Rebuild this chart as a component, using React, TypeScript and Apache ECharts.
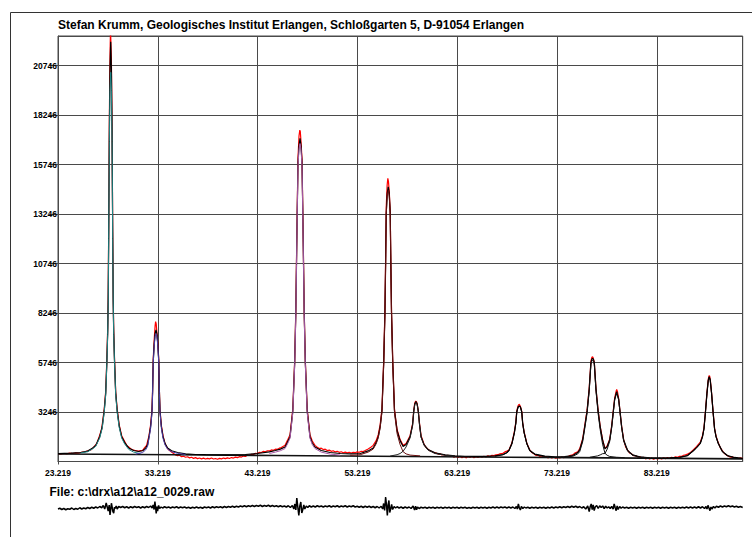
import React, { useEffect, useRef } from "react";
import * as echarts from "echarts";

const TITLE = "Stefan Krumm, Geologisches Institut Erlangen, Schloßgarten 5, D-91054 Erlangen";
const FILE_LABEL = "File: c:\\drx\\a12\\a12_0029.raw";

const X_MIN = 23.219;
const X_MAX = 91.83;
const X_STEP = 10;
const Y_MIN = 746;
const Y_MAX = 22236;
const Y_STEP = 2500;
const RES_MIN = -400;
const RES_MAX = 400;

// measured diffractogram (2theta, counts)
const measured: number[][] = [
  [23.219,1140],[23.5,1120],[23.8,1150],[24.1,1135],[24.4,1165],[24.7,1150],[25.0,1180],[25.3,1165],[25.6,1215],[25.9,1240],[26.2,1290],[26.5,1330],[26.8,1470],[27.1,1650],[27.4,2080],[27.6,2400],[27.85,3400],[28.0,4300],[28.115,5900],[28.2,7500],[28.25,9200],[28.3,12600],[28.365,18000],[28.43,21200],[28.48,22600],[28.52,22600],[28.57,21000],[28.635,17800],[28.7,12400],[28.75,9000],[28.8,7400],[28.885,5900],[29.0,4250],[29.15,3400],[29.35,2600],[29.6,2050],[29.9,1760],[30.1,1560],[30.3,1480],[30.5,1390],[30.7,1340],[30.9,1310],[31.1,1290],[31.3,1270],[31.5,1300],[31.7,1310],[31.9,1450],[32.1,1560],[32.34,2050],[32.5,2600],[32.64,3400],[32.7,4400],[32.76,5900],[32.86,6900],[32.95,7600],[33.0,7810],[33.06,7700],[33.13,7250],[33.22,6750],[33.32,5850],[33.38,4300],[33.44,3350],[33.58,2550],[33.74,2050],[33.95,1640],[34.2,1400],[34.4,1300],[34.6,1230],
  [34.8,1150],[35.0,1080],[35.2,1040],[35.4,1060],[35.6,990],[35.8,1010],[36.0,960],[36.2,985],[36.4,930],[36.6,960],[36.8,905],[37.0,940],[37.2,890],[37.4,925],[37.6,880],[37.8,915],[38.0,870],[38.2,905],[38.4,880],[38.6,920],[38.8,870],[39.0,900],[39.2,860],[39.4,905],[39.6,880],[39.8,920],[40.0,890],[40.2,930],[40.4,900],[40.6,945],[40.8,920],[41.0,965],[41.2,940],[41.4,990],[41.6,970],[41.8,1020],[42.0,1000],[42.2,1060],[42.4,1050],[42.6,1110],[42.8,1100],[43.0,1160],[43.2,1150],[43.4,1210],[43.6,1200],[43.8,1260],[44.0,1240],[44.2,1290],[44.4,1280],[44.6,1330],[44.8,1310],[45.0,1370],[45.2,1360],[45.4,1420],[45.6,1450],[45.8,1520],[45.97,1560],
  [46.2,1800],[46.47,2100],[46.75,3400],[46.94,5900],[47.05,8400],[47.12,11000],[47.19,13500],[47.27,16100],[47.37,17200],[47.45,17480],[47.5,17400],[47.57,16900],[47.67,16000],[47.75,13400],[47.82,10900],[47.89,8350],[48.0,5850],[48.19,3380],[48.47,2080],[48.7,1780],[48.97,1560],[49.2,1470],[49.4,1400],[49.6,1420],[49.8,1350],[50.0,1370],[50.2,1300],[50.4,1320],[50.6,1260],[50.8,1290],[51.0,1230],[51.2,1260],[51.4,1210],[51.6,1240],[51.8,1190],[52.0,1220],[52.2,1180],[52.4,1215],[52.6,1175],[52.8,1210],[53.0,1190],[53.2,1230],[53.4,1210],[53.6,1260],[53.8,1250],[54.0,1300],[54.3,1380],[54.6,1480],[54.8,1560],[55.1,1800],
  [55.31,2100],[55.5,2600],[55.68,3400],[55.86,5900],[55.98,8400],[56.05,11000],[56.11,13600],[56.2,14700],[56.27,15050],[56.33,14900],[56.41,14400],[56.51,13400],[56.57,10900],[56.64,8300],[56.76,5850],[56.94,3350],[57.2,2350],[57.5,1850],[57.8,1560],[58.1,1650],[58.5,2050],[58.75,2650],[58.87,3350],[58.97,3700],[59.07,3800],[59.15,3750],[59.21,3650],[59.32,3300],[59.45,2650],[59.6,2050],[59.9,1620],[60.1,1460],[60.3,1370],
  [60.5,1280],[60.7,1250],[60.9,1190],[61.1,1180],[61.3,1120],[61.5,1130],[61.7,1080],[61.9,1100],[62.1,1030],[62.3,1060],[62.5,1000],[62.7,1040],[62.9,960],[63.1,1010],[63.3,950],[63.5,1000],[63.7,940],[63.9,990],[64.1,930],[64.3,985],[64.5,950],[64.7,1000],[64.9,940],[65.1,990],[65.3,950],[65.5,1000],[65.7,960],[65.9,1010],[66.1,970],[66.3,1030],[66.5,1000],[66.7,1060],[66.9,1040],[67.1,1080],[67.3,1090],[67.5,1130],[67.8,1160],[68.0,1230],[68.2,1270],[68.4,1320],
  [68.7,1680],[68.95,2250],[69.1,2750],[69.19,3300],[69.32,3560],[69.42,3640],[69.5,3580],[69.56,3520],[69.69,3280],[69.78,2700],[69.93,2230],[70.2,1670],[70.5,1320],[70.7,1200],[70.9,1140],[71.1,1060],[71.3,1070],[71.5,1000],[71.7,1030],[71.9,960],[72.1,1000],[72.3,930],[72.5,975],[72.7,920],[72.9,960],[73.1,910],[73.3,955],[73.5,920],[73.7,970],[73.9,940],[74.1,995],[74.3,990],[74.5,1040],[74.8,1080],[75.0,1170],[75.3,1240],[75.5,1400],
  [75.79,1880],[76.0,2550],[76.24,3350],[76.45,4450],[76.62,5800],[76.7,5980],[76.76,6040],[76.83,6000],[76.88,5900],[76.96,5760],[77.13,4420],[77.34,3340],[77.55,2520],[77.79,1850],[78.03,1410],[78.25,1530],[78.5,1870],[78.7,2550],[78.87,3350],[79.0,3950],[79.15,4300],[79.2,4390],[79.27,4300],[79.4,3920],[79.53,3320],[79.7,2520],[79.9,1850],[80.1,1480],[80.3,1320],
  [80.5,1180],[80.7,1130],[80.9,1040],[81.1,1050],[81.3,970],[81.5,1000],[81.7,920],[81.9,960],[82.1,880],[82.3,930],[82.5,870],[82.7,920],[82.9,860],[83.1,910],[83.3,870],[83.5,920],[83.7,880],[83.9,930],[84.1,890],[84.3,945],[84.5,900],[84.7,960],[84.9,930],[85.1,980],[85.3,960],[85.5,1010],[85.7,1000],[85.9,1060],[86.1,1080],[86.3,1120],[86.6,1200],[86.9,1340],[87.2,1500],
  [87.58,1720],[87.8,2050],[87.95,2450],[88.1,3300],[88.25,4250],[88.38,4900],[88.46,5080],[88.52,5060],[88.58,4880],[88.71,4220],[88.86,3280],[89.01,2430],[89.16,2030],[89.38,1700],[89.6,1430],[89.8,1280],[90.0,1150],[90.2,1080],[90.4,1010],[90.6,960],[90.8,980],[91.0,920],[91.2,950],[91.4,900],[91.6,935],[91.83,890],
];

// fitted profile (sum of peaks + background)
const fitted: number[][] = [
  [23.219,1140],[24.5,1165],[25.5,1200],[26.2,1270],[26.7,1430],[27.0,1560],[27.4,2000],[27.65,2500],[27.85,3300],[28.0,4200],[28.115,5790],[28.2,7300],[28.25,8900],[28.3,12300],[28.365,17500],[28.43,20600],[28.5,21950],[28.57,20600],[28.635,17500],[28.7,12300],[28.75,8900],[28.8,7300],[28.885,5790],[29.0,4200],[29.15,3300],[29.35,2550],[29.6,2000],[29.9,1700],[30.3,1430],[30.8,1300],[31.3,1250],[31.7,1290],
  [32.0,1420],[32.2,1600],[32.34,2000],[32.5,2500],[32.64,3300],[32.7,4300],[32.76,5790],[32.86,6700],[32.95,7200],[33.04,7390],[33.13,7200],[33.22,6700],[33.32,5790],[33.38,4300],[33.44,3300],[33.58,2500],[33.74,2000],[33.95,1650],[34.2,1430],[34.6,1290],[35.2,1200],[36.0,1130],[37.0,1100],[38.0,1090],[40.0,1085],[42.0,1100],[43.2,1150],[44.4,1230],[45.0,1300],[45.5,1370],
  [45.97,1480],[46.2,1700],[46.47,2000],[46.75,3300],[46.94,5790],[47.05,8280],[47.12,10800],[47.19,13300],[47.27,15850],[47.37,16700],[47.47,17070],[47.57,16700],[47.67,15850],[47.75,13300],[47.82,10800],[47.89,8280],[48.0,5790],[48.19,3300],[48.47,2000],[48.7,1680],[48.97,1480],[49.6,1300],[50.5,1200],[51.5,1150],[52.5,1130],[53.5,1150],[54.3,1280],[54.8,1430],[55.1,1700],
  [55.31,2000],[55.5,2500],[55.68,3300],[55.86,5790],[55.98,8280],[56.05,10800],[56.11,13300],[56.21,14300],[56.31,14620],[56.41,14300],[56.51,13300],[56.57,10800],[56.64,8280],[56.76,5790],[56.94,3300],[57.2,2300],[57.5,1800],[57.8,1500],[58.1,1600],[58.5,2000],[58.75,2600],[58.87,3300],[58.97,3650],[59.09,3770],[59.21,3650],[59.32,3300],[59.45,2600],[59.6,2000],[59.9,1600],[60.3,1350],
  [61.0,1180],[62.0,1080],[63.0,1030],[64.0,1010],[65.0,1000],[66.0,1000],[67.0,1030],[67.8,1100],[68.2,1200],[68.4,1300],[68.7,1650],[68.95,2200],[69.1,2700],[69.19,3250],[69.32,3500],[69.44,3550],[69.56,3500],[69.69,3250],[69.78,2700],[69.93,2200],[70.2,1650],[70.5,1300],[71.0,1120],[72.0,1020],[73.0,985],[74.0,990],[74.8,1050],[75.3,1200],[75.5,1330],
  [75.79,1830],[76.0,2500],[76.24,3300],[76.45,4400],[76.62,5740],[76.7,5900],[76.79,5960],[76.88,5900],[76.96,5740],[77.13,4400],[77.34,3300],[77.55,2500],[77.79,1830],[78.03,1380],[78.25,1500],[78.5,1830],[78.7,2500],[78.87,3300],[79.0,3900],[79.2,4270],[79.4,3900],[79.53,3300],[79.7,2500],[79.9,1830],[80.3,1300],[80.8,1080],
  [81.5,980],[82.5,930],[83.5,920],[84.5,930],[85.5,960],[86.3,1050],[86.9,1300],[87.2,1450],[87.58,1665],[87.8,2000],[87.95,2400],[88.1,3260],[88.25,4200],[88.38,4850],[88.48,5030],[88.58,4850],[88.71,4200],[88.86,3260],[89.01,2400],[89.16,2000],[89.38,1665],[89.8,1250],[90.3,1050],[91.0,950],[91.83,900],
];

const background: number[][] = [
  [23.219,1125],[35,1085],[45,1050],[55,1010],[65,975],[75,940],[85,905],[91.83,880],
];

// individual peak components (incl. background)
const peak1: number[][] = [[25.5,1180],[26.2,1240],[26.7,1390],[27.0,1510],[27.4,1940],[27.65,2430],[27.85,3220],[28.0,4110],[28.115,5680],[28.2,7170],[28.25,8750],[28.3,12000],[28.365,16900],[28.43,19500],[28.5,20400],[28.57,19500],[28.635,16900],[28.7,12000],[28.75,8750],[28.8,7170],[28.885,5680],[29.0,4110],[29.15,3220],[29.35,2470],[29.6,1930],[29.9,1630],[30.3,1360],[30.8,1220],[31.5,1140]];
const peak2: number[][] = [[31.0,1120],[31.7,1200],[32.0,1330],[32.2,1520],[32.34,1920],[32.5,2420],[32.64,3220],[32.7,4200],[32.76,5680],[32.86,6580],[32.95,7050],[33.04,7200],[33.13,7050],[33.22,6580],[33.32,5680],[33.38,4200],[33.44,3220],[33.58,2420],[33.74,1920],[33.95,1580],[34.2,1370],[34.6,1240],[35.2,1160],[36.0,1100]];
const peak3: number[][] = [[44.4,1150],[45.0,1220],[45.5,1290],[45.97,1400],[46.2,1620],[46.47,1920],[46.75,3210],[46.94,5690],[47.05,8180],[47.12,10700],[47.19,13200],[47.27,15700],[47.37,16500],[47.47,16800],[47.57,16500],[47.67,15700],[47.75,13200],[47.82,10700],[47.89,8180],[48.0,5690],[48.19,3210],[48.47,1920],[48.7,1600],[48.97,1400],[49.6,1220],[50.5,1120],[51.5,1070]];
const peak4: number[][] = [[52.5,1060],[53.5,1090],[54.3,1220],[54.8,1370],[55.1,1640],[55.31,1940],[55.5,2440],[55.68,3240],[55.86,5720],[55.98,8200],[56.05,10700],[56.11,13200],[56.21,14150],[56.31,14450],[56.41,14150],[56.51,13200],[56.57,10700],[56.64,8180],[56.76,5680],[56.94,3180],[57.2,2150],[57.5,1600],[57.8,1240],[58.1,1130],[58.5,1070],[59.5,1030]];
const peak5: number[][] = [[56.5,1020],[57.2,1090],[57.5,1150],[57.8,1265],[58.1,1480],[58.5,1940],[58.75,2560],[58.87,3260],[58.97,3610],[59.09,3730],[59.21,3610],[59.32,3260],[59.45,2570],[59.6,1970],[59.9,1570],[60.3,1320],[61.0,1150],[62.0,1060],[63.0,1020]];
const peak6: number[][] = [[67.0,1010],[67.8,1080],[68.2,1180],[68.4,1280],[68.7,1630],[68.95,2180],[69.1,2680],[69.19,3230],[69.32,3480],[69.44,3530],[69.56,3480],[69.69,3230],[69.78,2680],[69.93,2180],[70.2,1630],[70.5,1280],[71.0,1100],[72.0,1000]];
const peak7: number[][] = [[73.5,950],[74.8,1010],[75.3,1130],[75.5,1250],[75.79,1740],[76.0,2400],[76.24,3200],[76.45,4300],[76.62,5640],[76.7,5800],[76.79,5860],[76.88,5800],[76.96,5640],[77.13,4290],[77.34,3180],[77.55,2350],[77.79,1620],[78.03,1160],[78.25,1060],[78.5,1000],[79.2,960],[80.0,940]];
const peak8: number[][] = [[76.5,960],[77.3,1030],[77.55,1080],[77.79,1140],[78.03,1150],[78.25,1370],[78.5,1760],[78.7,2440],[78.87,3250],[79.0,3850],[79.2,4220],[79.4,3860],[79.53,3260],[79.7,2460],[79.9,1790],[80.3,1270],[80.8,1060],[81.5,965],[82.5,925]];
const peak9: number[][] = [[85.5,945],[86.3,1035],[86.9,1285],[87.2,1435],[87.58,1650],[87.8,1985],[87.95,2385],[88.1,3245],[88.25,4185],[88.38,4835],[88.48,5015],[88.58,4835],[88.71,4185],[88.86,3245],[89.01,2385],[89.16,1985],[89.38,1650],[89.8,1235],[90.3,1035],[91.0,935]];

const peakColors = ["#1f8585", "#4a3ca8", "#a85aa8", "#6a1010", "#222222", "#111111", "#111111", "#111111", "#111111"];
const peakOnTop = [true, true, true, true, true, false, true, true, false];

// difference curve (measured - fit)
const residual: number[][] = [
  [23.219,-20],[23.4,-5],[23.6,-30],[23.8,-10],[24.0,-35],[24.2,-15],[24.4,-25],[24.6,0],[24.8,-30],[25.0,-10],[25.2,-25],[25.4,5],[25.6,-20],[25.8,0],[26.0,-15],[26.2,10],[26.4,-10],[26.6,15],[26.8,-5],[27.0,20],[27.2,0],[27.4,30],[27.6,5],
  [27.75,50],[27.9,-20],[28.05,100],[28.15,20],[28.25,-60],[28.35,60],[28.43,-140],[28.5,-30],[28.57,95],[28.65,10],[28.72,-70],[28.8,-105],[28.88,20],[28.95,-10],[29.05,40],[29.15,-20],[29.3,30],
  [29.5,10],[29.7,30],[29.9,5],[30.1,25],[30.3,0],[30.5,25],[30.7,5],[30.9,30],[31.1,10],[31.3,25],[31.5,0],[31.7,25],[31.9,5],[32.1,30],[32.3,10],[32.5,40],[32.65,0],
  [32.75,60],[32.85,-30],[32.93,126],[33.0,10],[33.06,-106],[33.13,30],[33.2,-60],[33.3,50],[33.4,-10],[33.55,20],
  [33.7,0],[33.9,25],[34.1,5],[34.3,20],[34.5,0],[34.7,20],[34.9,5],[35.1,25],[35.3,0],[35.5,20],[35.7,5],[35.9,20],[36.1,0],[36.3,15],[36.5,-5],[36.7,15],[36.9,0],[37.1,20],[37.3,0],[37.5,15],[37.7,-5],[37.9,20],[38.1,5],[38.3,20],[38.5,0],[38.7,25],[38.9,5],[39.1,25],[39.3,10],[39.5,25],[39.7,5],[39.9,30],[40.1,10],[40.3,30],[40.5,15],[40.7,35],[40.9,15],[41.1,35],[41.3,20],[41.5,40],[41.7,25],[41.9,45],[42.1,25],[42.3,45],[42.5,30],[42.7,50],[42.9,30],[43.1,50],[43.3,35],[43.5,55],[43.7,30],[43.9,50],[44.1,35],[44.3,55],[44.5,30],[44.7,50],[44.9,30],[45.1,45],[45.3,25],[45.5,45],[45.7,25],[45.9,40],[46.1,20],[46.3,45],[46.5,10],[46.7,50],
  [46.85,-20],[46.95,80],[47.05,-40],[47.15,200],[47.25,20],[47.35,-150],[47.45,40],[47.55,120],[47.65,-100],[47.75,-30],[47.85,60],[47.95,-20],[48.1,40],[48.25,10],
  [48.4,45],[48.6,20],[48.8,40],[49.0,20],[49.2,45],[49.4,25],[49.6,40],[49.8,20],[50.0,40],[50.2,25],[50.4,45],[50.6,20],[50.8,40],[51.0,25],[51.2,45],[51.4,20],[51.6,40],[51.8,25],[52.0,45],[52.2,20],[52.4,40],[52.6,25],[52.8,45],[53.0,20],[53.2,35],[53.4,15],[53.6,35],[53.8,10],[54.0,35],[54.2,15],[54.4,35],[54.6,10],[54.8,30],[55.0,5],[55.2,30],[55.4,0],[55.6,35],
  [55.75,-20],[55.85,90],[55.95,-50],[56.05,220],[56.15,30],[56.22,-150],[56.3,60],[56.38,150],[56.46,-90],[56.55,-20],[56.65,70],[56.75,-30],[56.9,30],[57.05,0],
  [57.2,25],[57.4,0],[57.6,20],[57.8,-5],[58.0,20],[58.2,0],[58.4,20],[58.6,-10],[58.8,40],[58.95,-40],[59.05,35],[59.15,-35],[59.25,20],[59.4,-10],[59.6,15],
  [59.8,0],[60.0,15],[60.2,-5],[60.4,15],[60.6,0],[60.8,15],[61.0,-5],[61.2,15],[61.4,0],[61.6,15],[61.8,-5],[62.0,15],[62.2,0],[62.4,15],[62.6,-5],[62.8,15],[63.0,0],[63.2,15],[63.4,-5],[63.6,15],[63.8,0],[64.0,15],[64.2,-5],[64.4,10],[64.6,-5],[64.8,15],[65.0,0],[65.2,15],[65.4,-5],[65.6,15],[65.8,0],[66.0,15],[66.2,-5],[66.4,15],[66.6,0],[66.8,20],[67.0,0],[67.2,20],[67.4,0],[67.6,20],[67.8,5],[68.0,20],[68.2,0],[68.4,20],[68.6,0],[68.8,20],[69.0,-10],
  [69.15,30],[69.25,-20],[69.35,80],[69.45,0],[69.55,-40],[69.65,30],[69.8,-10],[69.95,20],
  [70.1,0],[70.3,15],[70.5,-5],[70.7,15],[70.9,0],[71.1,15],[71.3,-5],[71.5,15],[71.7,0],[71.9,15],[72.1,-5],[72.3,15],[72.5,0],[72.7,20],[72.9,0],[73.1,20],[73.3,5],[73.5,25],[73.7,5],[73.9,25],[74.1,10],[74.3,30],[74.5,10],[74.7,35],[74.9,15],[75.1,35],[75.3,10],[75.5,30],[75.7,0],[75.9,25],
  [76.1,-20],[76.3,40],[76.45,-73],[76.55,30],[76.65,80],[76.75,-30],[76.85,60],[76.95,-50],[77.05,20],[77.2,50],[77.35,-10],[77.5,45],[77.65,10],[77.8,40],[77.95,-10],[78.1,35],[78.25,0],[78.4,25],[78.55,-10],
  [78.7,30],[78.85,-20],[78.95,80],[79.05,10],[79.15,-53],[79.25,40],[79.35,-30],[79.5,30],[79.65,-5],[79.8,20],
  [80.0,0],[80.2,15],[80.4,-5],[80.6,15],[80.8,0],[81.0,15],[81.2,-5],[81.4,15],[81.6,0],[81.8,15],[82.0,-5],[82.2,15],[82.4,0],[82.6,15],[82.8,-5],[83.0,15],[83.2,0],[83.4,15],[83.6,-5],[83.8,15],[84.0,0],[84.2,15],[84.4,-5],[84.6,15],[84.8,0],[85.0,15],[85.2,-5],[85.4,15],[85.6,0],[85.8,15],[86.0,0],[86.2,20],[86.4,0],[86.6,20],[86.8,0],[87.0,20],[87.2,0],[87.4,25],[87.6,0],[87.8,25],[88.0,-10],
  [88.15,30],[88.25,-20],[88.35,53],[88.45,0],[88.55,-53],[88.65,20],[88.75,-20],[88.9,30],[89.05,0],
  [89.2,35],[89.4,15],[89.6,40],[89.8,20],[90.0,40],[90.2,25],[90.4,45],[90.6,25],[90.8,40],[91.0,20],[91.2,35],[91.4,15],[91.6,30],[91.83,10],
];

const FONT = "'Liberation Sans', Arial, Helvetica, sans-serif";
const GRID_COLOR = "#4a4a4a";

export default function App() {
  const ref = useRef<HTMLDivElement>(null);
  useEffect(() => {
    if (!ref.current) return;
    const chart = echarts.init(ref.current, undefined, { renderer: "svg" });
    const line = (name: string, data: number[][], color: string, width: number, z: number, axis = 0) => ({
      type: "line",
      name,
      data,
      xAxisIndex: axis,
      yAxisIndex: axis,
      showSymbol: false,
      symbol: "none",
      silent: true,
      clip: true,
      z,
      lineStyle: { color, width },
    });
    const peaks = [peak1, peak2, peak3, peak4, peak5, peak6, peak7, peak8, peak9];
    const option: any = {
      animation: false,
      backgroundColor: "#ffffff",
      grid: [
        { left: 58, top: 36, width: 684.7, height: 425.5, show: true, borderColor: GRID_COLOR, borderWidth: 1, backgroundColor: "transparent" },
        { left: 58, top: 488, width: 684.7, height: 40, show: false },
      ],
      xAxis: [
        {
          type: "value",
          gridIndex: 0,
          min: X_MIN,
          max: X_MAX,
          interval: X_STEP,
          axisLine: { show: true, lineStyle: { color: GRID_COLOR, width: 1 } },
          axisTick: { show: true, length: 3, lineStyle: { color: GRID_COLOR, width: 1 } },
          axisLabel: {
            show: true,
            margin: 7,
            fontSize: 8.5,
            fontWeight: "bold",
            fontFamily: FONT,
            color: "#000",
            showMinLabel: true,
            showMaxLabel: false,
            formatter: (v: number) => (Math.round((v - X_MIN) / X_STEP) * X_STEP + X_MIN).toFixed(3),
          },
          splitLine: { show: true, lineStyle: { color: GRID_COLOR, width: 1 } },
        },
        { type: "value", gridIndex: 1, min: X_MIN, max: X_MAX, show: false, splitLine: { show: false } },
      ],
      yAxis: [
        {
          type: "value",
          gridIndex: 0,
          min: Y_MIN,
          max: Y_MAX,
          interval: Y_STEP,
          axisLine: { show: true, lineStyle: { color: GRID_COLOR, width: 1 } },
          axisTick: { show: true, length: 9, lineStyle: { color: GRID_COLOR, width: 1 } },
          axisLabel: {
            show: true,
            margin: 1,
            fontSize: 8.5,
            fontWeight: "bold",
            fontFamily: FONT,
            color: "#000",
            showMinLabel: false,
            showMaxLabel: false,
            formatter: (v: number) => String(Math.round(v)),
          },
          splitLine: { show: true, lineStyle: { color: GRID_COLOR, width: 1 } },
        },
        { type: "value", gridIndex: 1, min: RES_MIN, max: RES_MAX, show: false, splitLine: { show: false } },
      ],
      graphic: [
        { type: "line", silent: true, shape: { x1: 10.5, y1: 12.5, x2: 752, y2: 12.5 }, style: { stroke: "#333", lineWidth: 1 } },
        { type: "line", silent: true, shape: { x1: 10.5, y1: 12.5, x2: 10.5, y2: 537 }, style: { stroke: "#333", lineWidth: 1 } },
        {
          type: "text",
          silent: true,
          x: 58,
          y: 25,
          style: { text: TITLE, fontSize: 12, fontWeight: "bold", fontFamily: FONT, fill: "#000", align: "left", verticalAlign: "middle" },
        },
        {
          type: "text",
          silent: true,
          x: 49.5,
          y: 491.5,
          style: { text: FILE_LABEL, fontSize: 12, fontWeight: "bold", fontFamily: FONT, fill: "#000", align: "left", verticalAlign: "middle" },
        },
      ],
      series: [
        line("measured", measured, "#ff0000", 1.2, 2),
        line("background", background, "#111111", 1.6, 3),
        ...peaks.map((p, i) => line("peak" + (i + 1), p, peakColors[i], 1, peakOnTop[i] ? 5 : 3)),
        line("fit", fitted, "#000000", 1.2, 4),
        line("difference", residual, "#000000", 1.5, 2, 1),
      ],
    };
    chart.setOption(option);
    return () => chart.dispose();
  }, []);
  return <div ref={ref} style={{ position: "fixed", left: 0, top: 0, width: 752, height: 537, background: "#fff" }} />;
}
